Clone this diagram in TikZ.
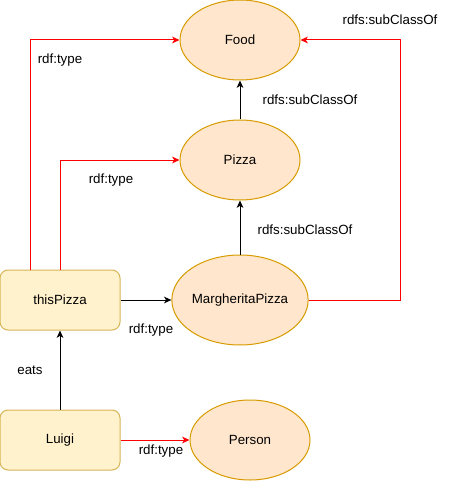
\documentclass[tikz,border=0pt]{standalone}
\usepackage{fontspec}
\setmainfont{Liberation Sans}
\usetikzlibrary{shapes.geometric,arrows.meta}
\definecolor{ellfill}{HTML}{FFE6CC}
\definecolor{elldraw}{HTML}{D79B00}
\definecolor{recfill}{HTML}{FFF2CC}
\definecolor{recdraw}{HTML}{D6B656}
\definecolor{redline}{HTML}{FF0000}
\tikzset{
  cls/.style={ellipse, draw=elldraw, fill=ellfill, line width=0.75pt, minimum width=120*0.75pt, minimum height=80*0.75pt, inner sep=0pt, font=\fontsize{10}{12}\selectfont},
  inst/.style={rectangle, rounded corners=6pt, draw=recdraw, fill=recfill, line width=0.75pt, minimum width=120*0.75pt, minimum height=60*0.75pt, inner sep=0pt, font=\fontsize{10}{12}\selectfont},
  edge/.style={line width=0.75pt, -{Stealth[length=5.5pt,width=5pt,inset=1.5pt]}},
  rededge/.style={edge, draw=redline, color=redline},
  lbl/.style={font=\fontsize{10}{12}\selectfont, inner sep=0pt}
}
\begin{document}
\begin{tikzpicture}[x=0.75pt,y=-0.75pt]
\useasboundingbox (0,0) rectangle (451,481);
\node[cls] (food) at (240,40) {Food};
\node[cls] (pizza) at (240,160) {Pizza};
\node[cls, minimum height=90*0.75pt] (marg) at (240,300) {MargheritaPizza};
\node[cls] (person) at (250,440) {Person};
\node[inst] (this) at (60,300) {thisPizza};
\node[inst] (luigi) at (60,440) {Luigi};

\coordinate (c1) at (30,40);
\coordinate (c2) at (60,160);
\coordinate (c3) at (400,300);
\coordinate (c4) at (400,40);

\draw[rededge] (this.north -| c1) -- (c1) -- (food.west);
\draw[rededge] (this.north) -- (c2) -- (pizza.west);
\draw[rededge] (marg.east) -- (c3) -- (c4) -- (food.east);
\draw[edge] (pizza) -- (food);
\draw[edge] (marg) -- (pizza);
\draw[edge] (this) -- (marg);
\draw[edge] (luigi) -- (this);
\draw[rededge] (luigi) -- (person);

\node[lbl] (l1) at (60,60) {rdf:type};
\node[lbl] (l2) at (111,180) {rdf:type};
\node[lbl] (l3) at (390,20) {rdfs:subClassOf};
\node[lbl] (l4) at (310,100) {rdfs:subClassOf};
\node[lbl] (l5) at (305,230) {rdfs:subClassOf};
\node[lbl] (l6) at (151,330) {rdf:type};
\node[lbl] (l7) at (30,370) {eats};
\node[lbl] (l8) at (161,451) {rdf:type};
\end{tikzpicture}
\end{document}
